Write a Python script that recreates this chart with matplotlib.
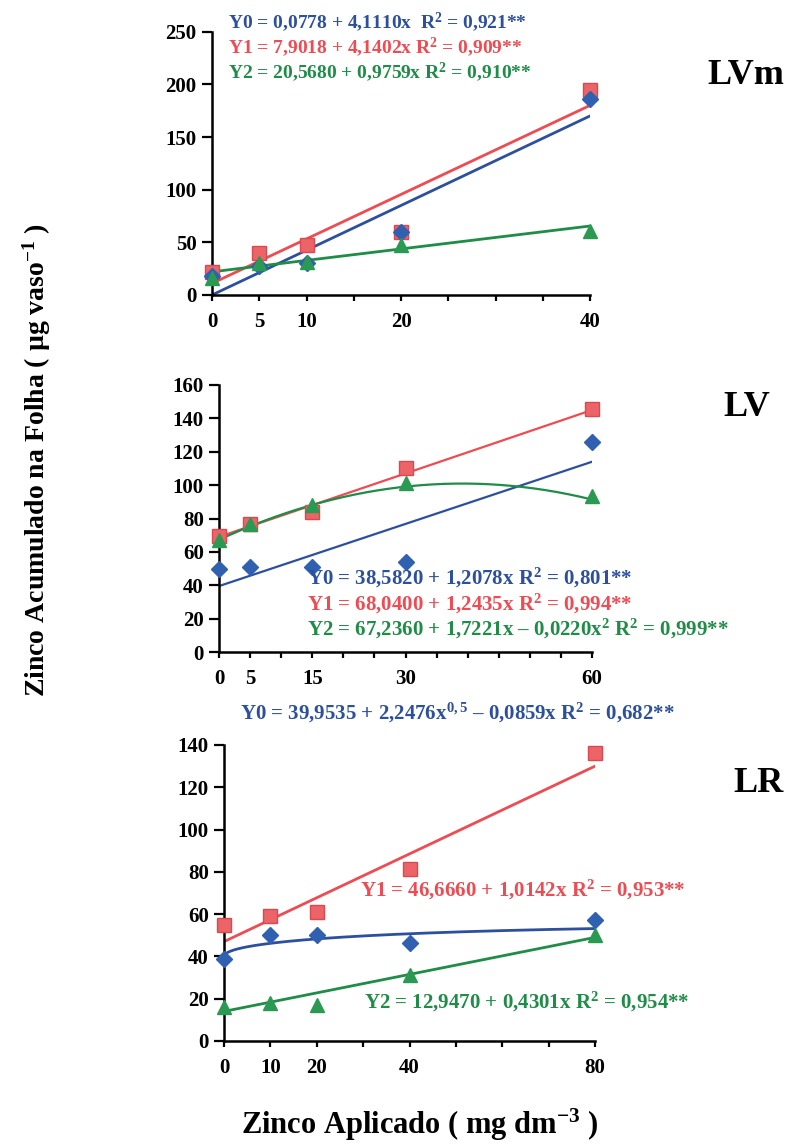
import numpy as np
import matplotlib
matplotlib.use("Agg")
import matplotlib.pyplot as plt

plt.rcParams['font.family'] = ['Liberation Serif', 'DejaVu Serif']
plt.rcParams['font.weight'] = 'bold'
plt.rcParams['mathtext.fontset'] = 'custom'
plt.rcParams['mathtext.rm'] = 'Liberation Serif:bold'
plt.rcParams['mathtext.it'] = 'Liberation Serif:bold'
plt.rcParams['mathtext.bf'] = 'Liberation Serif:bold'
plt.rcParams['mathtext.default'] = 'regular'

BLUE = '#2c4f9e'
RED = '#ee4b52'
GREEN = '#1f8c47'
SQ = '#ec6468'
DI = '#3060b0'
TR = '#2a9a52'

# --- LVm ---
lvm_x = [0, 5, 10, 20, 40]
lvm_y0 = [18, 28, 30, 60, 186]
lvm_y1 = [22, 40, 47, 60, 195]
lvm_y2 = [16, 30, 31, 47, 61]
# trend lines (ends)
lvm_fit_x = [0, 40]
lvm_fit0 = [0, 170]
lvm_fit1 = [11, 180]
lvm_fit2 = [22, 65.5]

# --- LV ---
lv_x = [0, 5, 15, 30, 60]
lv_y0 = [50, 51, 51, 54, 126]
lv_y1 = [69.5, 77, 84, 110, 145.5]
lv_y2 = [67, 77, 88, 101, 93.5]
lv_fit_x = [0, 60]
lv_fit0 = [39.5, 114]
lv_fit1 = [69, 145]
lv_quad = [67.2360, 1.7221, -0.0220]   # printed Y2 coefficients

# --- LR ---
lr_x = [0, 10, 20, 40, 80]
lr_y0 = [39, 50, 50, 46.5, 57]
lr_y1 = [55, 59, 61, 81.5, 136]
lr_y2 = [16, 18, 17, 31, 50]
lr_fit_x = [0, 80]
lr_fit1 = [47, 130]
lr_fit2 = [14, 49]
lr_sqrt = [39.9535, 2.2476, -0.0859]   # printed Y0 coefficients

W, H = 796, 1145
fig = plt.figure(figsize=(W / 100, H / 100), dpi=100)


def box(l, r, t, b):
    return [l / W, 1 - b / H, (r - l) / W, (b - t) / H]


def style(ax, xmax, ymax, xstep, ystep, xlabels):
    ax.set_xlim(0, xmax)
    ax.set_ylim(0, ymax)
    for s in ['top', 'right']:
        ax.spines[s].set_visible(False)
    for s in ['left', 'bottom']:
        ax.spines[s].set_linewidth(1.8)
    xt = np.arange(0, xmax + 1, xstep)
    ax.set_xticks(xt)
    ax.set_xticklabels([str(int(v)) if v in xlabels else '' for v in xt])
    ax.set_yticks(np.arange(0, ymax + 1, ystep))
    ax.tick_params(axis='x', length=4, width=1.6, pad=8, labelsize=15)
    ax.tick_params(axis='y', length=7, width=1.6, pad=4, labelsize=15)


def marks(ax, x, y0, y1, y2):
    ax.plot(x, y0, 'D', color=DI, ms=8, mec=DI, clip_on=False, zorder=5)
    ax.plot(x, y1, 's', color=SQ, ms=10, mec='#d84a50', clip_on=False, zorder=4)
    ax.plot(x, y2, '^', color=TR, ms=10, mec=TR, clip_on=False, zorder=6)


# panel 1
ax1 = fig.add_axes(box(212, 590, 31.7, 295))
ax1.plot(lvm_fit_x, lvm_fit0, color=BLUE, lw=2)
ax1.plot(lvm_fit_x, lvm_fit1, color=RED, lw=2)
ax1.plot(lvm_fit_x, lvm_fit2, color=GREEN, lw=2)
marks(ax1, lvm_x, lvm_y0, lvm_y1, lvm_y2)
style(ax1, 40, 250, 5, 50, lvm_x)

# panel 2
ax2 = fig.add_axes(box(219, 592, 385, 652))
xs = np.linspace(0, 60, 200)
ax2.plot(lv_fit_x, lv_fit0, color=BLUE, lw=1.6)
ax2.plot(lv_fit_x, lv_fit1, color=RED, lw=1.6)
ax2.plot(xs, lv_quad[0] + lv_quad[1] * xs + lv_quad[2] * xs ** 2, color=GREEN, lw=1.6)
marks(ax2, lv_x, lv_y0, lv_y1, lv_y2)
style(ax2, 60, 160, 5, 20, lv_x)

# panel 3
ax3 = fig.add_axes(box(224, 595, 745, 1041))
xs = np.linspace(0, 80, 200)
ax3.plot(xs, lr_sqrt[0] + lr_sqrt[1] * np.sqrt(xs) + lr_sqrt[2] * xs, color=BLUE, lw=2)
ax3.plot(lr_fit_x, lr_fit1, color=RED, lw=2)
ax3.plot(lr_fit_x, lr_fit2, color=GREEN, lw=2)
marks(ax3, lr_x, lr_y0, lr_y1, lr_y2)
style(ax3, 80, 140, 10, 20, lr_x)


def ftext(x, y, s, c, size=14, **kw):
    fig.text(x / W, 1 - y / H, s, color=c, fontsize=size, fontweight='bold',
             va='center', **kw)


ftext(228, 22, r'Y0 = 0,0778 + 4,1110x  R$^{2}$ = 0,921**', BLUE)
ftext(228, 47, r'Y1 = 7,9018 + 4,1402x R$^{2}$ = 0,909**', RED)
ftext(228, 72, r'Y2 = 20,5680 + 0,9759x R$^{2}$ = 0,910**', GREEN)

ftext(307, 578, r'Y0 = 38,5820 + 1,2078x R$^{2}$ = 0,801**', BLUE, size=15)
ftext(307, 604, r'Y1 = 68,0400 + 1,2435x R$^{2}$ = 0,994**', RED, size=15)
ftext(307, 629, r'Y2 = 67,2360 + 1,7221x – 0,0220x$^{2}$ R$^{2}$ = 0,999**', GREEN, size=15)

ftext(240, 713, r'Y0 = 39,9535 + 2,2476x$^{0,5}$ – 0,0859x R$^{2}$ = 0,682**', BLUE, size=15)
ftext(360, 890, r'Y1 = 46,6660 + 1,0142x R$^{2}$ = 0,953**', RED, size=15)
ftext(364, 1002, r'Y2 = 12,9470 + 0,4301x R$^{2}$ = 0,954**', GREEN, size=15)

ftext(746, 75, 'LVm', 'black', size=26, ha='center')
ftext(747, 407, 'LV', 'black', size=26, ha='center')
ftext(758, 784, 'LR', 'black', size=26, ha='center')

fig.text(37 / W, 1 - 460 / H, r'Zinco Acumulado na Folha ( µg vaso$^{-1}$ )',
         rotation=90, ha='center', va='center', fontsize=20, fontweight='bold')
fig.text(420 / W, 1 - 1125 / H, r'Zinco Aplicado ( mg dm$^{-3}$ )',
         ha='center', va='center', fontsize=22, fontweight='bold')

fig.savefig('out.png', dpi=100)
